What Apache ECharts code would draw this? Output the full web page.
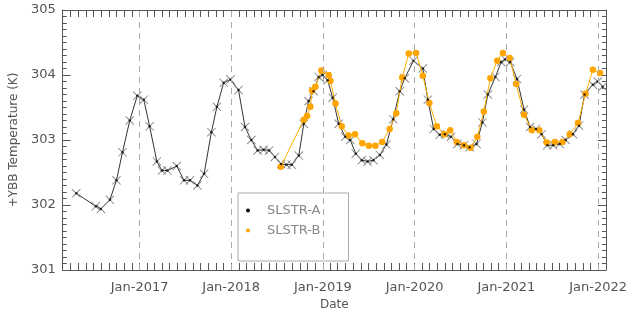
<!DOCTYPE html>
<html>
<head>
<meta charset="utf-8">
<script src="https://cdn.jsdelivr.net/npm/echarts@6/dist/echarts.min.js"></script>
<style>html,body{margin:0;padding:0;background:#fff}#c{width:630px;height:316px}</style>
</head>
<body>
<div id="c"></div>
<script>
// SLSTR-A (+YBB temperature, K)
const aDates = ['2016-04-24','2016-07-11','2016-07-31','2016-09-05','2016-10-01','2016-10-25','2016-11-23','2016-12-23',
  '2017-01-18','2017-02-10','2017-03-11','2017-03-31','2017-04-22','2017-05-29','2017-06-27','2017-07-21','2017-08-19',
  '2017-09-15','2017-10-14','2017-11-05','2017-12-02','2017-12-29','2018-01-30','2018-02-25','2018-03-22','2018-04-16',
  '2018-05-10','2018-06-01','2018-06-24','2018-07-19','2018-08-09','2018-08-30','2018-09-27','2018-10-17','2018-11-05',
  '2018-11-25','2018-12-15','2018-12-31','2019-01-20','2019-02-09','2019-03-05','2019-03-31','2019-04-20','2019-05-12',
  '2019-06-05','2019-06-28','2019-07-21','2019-08-16','2019-09-11','2019-10-08','2019-11-03','2019-11-23','2019-12-28',
  '2020-02-03','2020-02-23','2020-03-17','2020-04-10','2020-05-01','2020-05-25','2020-06-20','2020-07-16','2020-08-07',
  '2020-09-04','2020-09-27','2020-10-19','2020-11-18','2020-12-11','2020-12-28','2021-01-16','2021-02-12','2021-03-12',
  '2021-04-05','2021-04-29','2021-05-21','2021-06-13','2021-07-06','2021-08-01','2021-08-25','2021-09-23','2021-10-17',
  '2021-11-08','2021-12-11','2021-12-31','2022-01-19'];
const aValues = [302.18,301.98,301.94,302.08,302.38,302.81,303.30,303.68,
  303.62,303.21,302.67,302.53,302.53,302.60,302.38,302.38,302.30,
  302.48,303.12,303.51,303.88,303.93,303.77,303.20,303.00,302.84,
  302.85,302.84,302.74,302.63,302.62,302.62,302.76,303.25,303.60,
  303.75,303.97,304.00,303.92,303.65,303.25,303.05,303.00,302.79,
  302.69,302.67,302.69,302.77,302.93,303.32,303.75,303.95,304.22,
  304.10,303.62,303.17,303.08,303.09,303.05,302.94,302.92,302.89,
  302.94,303.27,303.70,303.97,304.20,304.24,304.20,303.94,303.47,
  303.20,303.17,303.09,302.92,302.92,302.94,303.00,303.09,303.22,
  303.70,303.85,303.90,303.82];
// SLSTR-B
const bDates = ['2018-07-17','2018-10-17','2018-10-30','2018-11-12','2018-11-19','2018-12-02','2018-12-26','2019-01-24',
  '2019-01-31','2019-02-20','2019-03-17','2019-04-13','2019-05-09','2019-06-07','2019-07-03','2019-07-29','2019-08-25',
  '2019-09-24','2019-10-20','2019-11-13','2019-12-09','2020-01-07','2020-02-03','2020-02-29','2020-03-30','2020-04-29',
  '2020-05-22','2020-06-17','2020-07-16','2020-08-11','2020-09-07','2020-10-03','2020-10-29','2020-11-25','2020-12-18',
  '2021-01-14','2021-02-09','2021-03-12','2021-04-12','2021-05-12','2021-06-10','2021-07-13','2021-08-12','2021-09-10',
  '2021-10-13','2021-11-12','2021-12-11','2022-01-09'];
const bValues = [302.59,303.31,303.37,303.51,303.76,303.82,304.07,304.00,
  303.91,303.56,303.21,303.07,303.09,302.95,302.91,302.91,302.97,
  303.17,303.41,303.96,304.33,304.34,303.99,303.57,303.21,303.09,
  303.15,302.97,302.92,302.88,303.05,303.44,303.95,304.22,304.34,
  304.26,303.86,303.39,303.15,303.15,302.96,302.97,302.97,303.09,
  303.26,303.71,304.08,304.03];
const yearLines = ['2017-01-01','2018-01-01','2019-01-01','2020-01-01','2021-01-01','2022-01-01'];
const yTickLabels = [301, 302, 303, 304, 305];
const xMin = '2016-03-01', xMax = '2022-02-01';
const yMin = 301, yMax = 305;

const ts = s => { const p = s.split('-').map(Number); return new Date(p[0], p[1] - 1, p[2]).getTime(); };
const monthTicks = [];
for (let y = 2016; y <= 2022; y++) for (let m = 0; m < 12; m++) {
  const t = new Date(y, m, 1).getTime();
  if (t >= ts(xMin) && t <= ts(xMax)) monthTicks.push(t);
}
const yMinor = [];
for (let i = 0; i <= (yMax - yMin) * 10; i++) yMinor.push(+(yMin + i / 10).toFixed(1));
const yearTicks = yearLines.map(ts);
const pair = (d, v) => d.map((x, i) => [ts(x), v[i]]);

const axisColor = '#555';
const font = 'DejaVu Sans';
const xSymbol = 'path://M0,0.7L0.7,0L10,9.3L9.3,10Z M9.3,0L10,0.7L0.7,10L0,9.3Z';

const yAxisDef = (pos, withLabel, ticks, len, showLine) => {
  const ax = {
    type: 'value', position: pos, min: yMin, max: yMax, interval: 1,
    axisLine: {show: showLine, onZero: false, lineStyle: {color: axisColor, width: 1}},
    axisTick: {show: true, inside: true, length: len, customValues: ticks, lineStyle: {color: axisColor, width: 1}},
    axisLabel: {show: false},
    splitLine: {show: false}
  };
  if (withLabel) {
    ax.axisLabel = {show: true, customValues: yTickLabels, color: axisColor, fontSize: 13, fontFamily: font, margin: 7};
    ax.name = '+YBB Temperature (K)';
    ax.nameLocation = 'middle';
    ax.nameGap = 41;
    ax.nameTextStyle = {color: axisColor, fontSize: 12, fontFamily: font};
  }
  return ax;
};

const chart = echarts.init(document.getElementById('c'), null, {renderer: 'canvas'});
chart.setOption({
  animation: false,
  backgroundColor: '#fff',
  grid: {left: 62, right: 21, top: 10, bottom: 39},
  legend: {
    left: 238, top: 193, orient: 'vertical',
    borderColor: '#aaa', borderWidth: 1,
    padding: [11, 28, 24, 8], itemGap: 7,
    itemWidth: 4, itemHeight: 4,
    textStyle: {color: '#888', fontSize: 13, fontFamily: font, padding: [0, 0, 0, 12]},
    data: [
      {name: 'SLSTR-A', icon: 'circle', itemStyle: {color: '#000'}},
      {name: 'SLSTR-B', icon: 'circle', itemStyle: {color: '#ffa500'}}
    ]
  },
  xAxis: [{
    type: 'value', position: 'bottom', min: ts(xMin), max: ts(xMax),
    name: 'Date', nameLocation: 'middle', nameGap: 29,
    nameTextStyle: {color: axisColor, fontSize: 12, fontFamily: font},
    axisLine: {show: true, onZero: false, lineStyle: {color: axisColor, width: 1}},
    axisTick: {show: true, inside: true, length: 7, customValues: monthTicks, lineStyle: {color: axisColor}},
    axisLabel: {customValues: yearTicks, color: axisColor, fontSize: 13, fontFamily: font, margin: 11,
      formatter: v => 'Jan-' + new Date(v).getFullYear()},
    splitLine: {show: false}
  }, {
    type: 'value', position: 'top', min: ts(xMin), max: ts(xMax),
    axisLine: {show: true, onZero: false, lineStyle: {color: axisColor, width: 1}},
    axisTick: {show: true, inside: true, length: 7, customValues: monthTicks, lineStyle: {color: axisColor}},
    axisLabel: {show: false},
    splitLine: {show: false}
  }],
  yAxis: [
    yAxisDef('left', true, yMinor, 4, true),
    yAxisDef('right', false, yMinor, 4, true),
    yAxisDef('left', false, yTickLabels, 8, false),
    yAxisDef('right', false, yTickLabels, 8, false)
  ],
  series: [{
    name: 'SLSTR-A', type: 'line', xAxisIndex: 0, yAxisIndex: 0,
    data: pair(aDates, aValues),
    symbol: xSymbol, symbolSize: 9, showAllSymbol: true,
    itemStyle: {color: '#888'},
    lineStyle: {color: '#333', width: 1},
    z: 2,
    markLine: {
      silent: true, symbol: 'none', label: {show: false},
      lineStyle: {color: '#aaa', type: [6, 5], width: 1},
      data: yearTicks.map(t => ({xAxis: t}))
    }
  }, {
    name: 'SLSTR-B', type: 'line', xAxisIndex: 0, yAxisIndex: 0,
    data: pair(bDates, bValues),
    symbol: 'circle', symbolSize: 6.5, showAllSymbol: true,
    itemStyle: {color: '#ffa500'},
    lineStyle: {color: '#ffb000', width: 1},
    z: 3
  }, {
    name: 'SLSTR-A', type: 'scatter', xAxisIndex: 0, yAxisIndex: 0,
    data: pair(aDates, aValues),
    symbol: 'circle', symbolSize: 2.5,
    itemStyle: {color: '#000'},
    silent: true, z: 4
  }]
});
</script>
</body>
</html>
